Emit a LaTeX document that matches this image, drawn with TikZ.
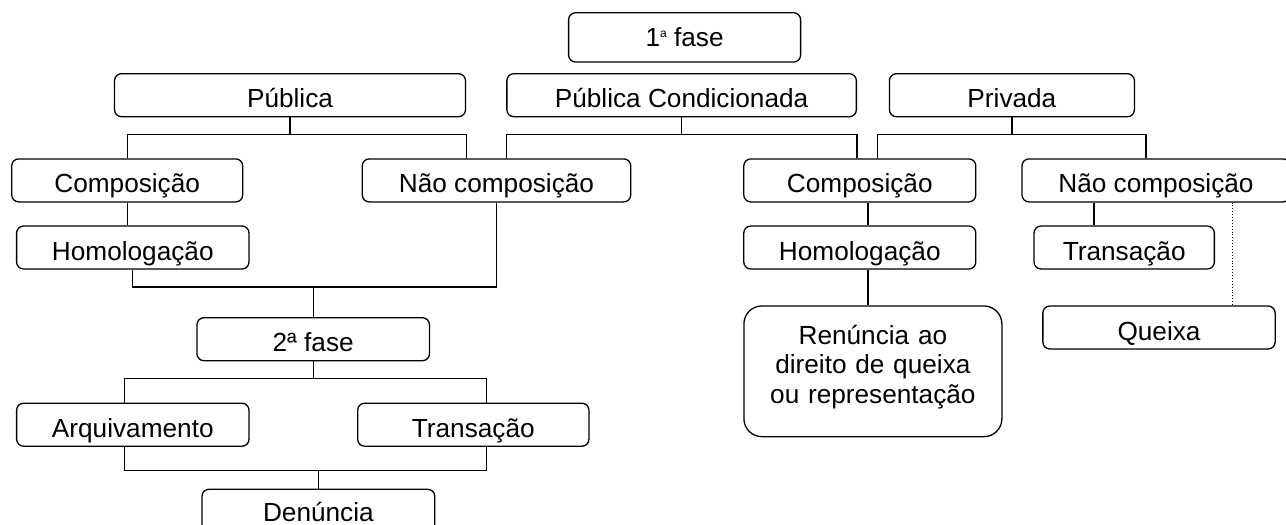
\documentclass[tikz,border=0pt]{standalone}
\usepackage{fontspec}
\setmainfont{Liberation Sans}
\usetikzlibrary{calc}
\begin{document}
\begin{tikzpicture}[x=1pt,y=-1pt,
  every node/.style={font=\fontsize{26.2pt}{29.5pt}\selectfont},
  box/.style={draw, line width=1.3pt, rounded corners=7pt, inner sep=0pt,
    minimum height=43pt, text height=25pt, text depth=0pt},
  bigbox/.style={draw, line width=1.3pt, rounded corners=18pt, inner sep=0pt},
  conn/.style={line width=1.3pt},
  dots/.style={line width=0.9pt, dotted}]
\useasboundingbox (0,0) rectangle (1286,525);
\clip (0,0) rectangle (1286,525);
% row 1
\node[box, minimum width=232pt, minimum height=49.3pt, text depth=6pt] (f1) at (684.6,37.4)
  {1\raisebox{9pt}{\fontsize{12pt}{12pt}\selectfont a} fase};
% row 2
\node[box, minimum width=351pt] (pub) at (290,95.2) {Pública};
\node[box, minimum width=349.5pt] (pc) at (681.6,95.2) {Pública Condicionada};
\node[box, minimum width=245pt] (priv) at (1011.9,95.2) {Privada};
% row 3
\node[box, minimum width=231pt] (comp1) at (127.2,180.4) {Composição};
\node[box, minimum width=268.5pt] (nc1) at (496.5,180.4) {Não composição};
\node[box, minimum width=232pt] (comp2) at (859.8,180.4) {Composição};
\node[box, minimum width=268pt] (nc2) at (1156,180.4) {Não composição};
% row 4
\node[box, minimum width=232.4pt] (hom1) at (132.8,247.5) {Homologação};
\node[box, minimum width=232pt] (hom2) at (859.8,247.5) {Homologação};
\node[box, minimum width=180.3pt] (tr2) at (1124.2,247.5) {Transação};
% right lower
\node[bigbox, minimum width=258pt, minimum height=130.7pt] (ren) at (872.9,371.3) {};
\node[anchor=base, align=center, text width=258pt, inner sep=0pt] (rentxt) at (872.9,344.3)
  {Renúncia ao\\direito de queixa\\ou representação};
\node[box, minimum width=232.3pt] (qx) at (1159,327.5) {Queixa};
% left lower
\node[box, minimum width=232.5pt] (f2) at (313.2,339.2) {2ª fase};
\node[box, minimum width=232.4pt] (arq) at (132.8,424.7) {Arquivamento};
\node[box, minimum width=231.3pt] (tr1) at (473.3,424.7) {Transação};
\node[box, minimum width=232.8pt, text height=21pt] (den) at (318.4,510.8) {Denúncia};
% junction coordinates
\coordinate (y1) at (0,134.4);
\coordinate (y3) at (0,287);
\coordinate (p1) at (877.7,134.4);
\coordinate (p2) at (1146,134.4);
\coordinate (a1) at (124.5,378.3);
\coordinate (a2) at (486.3,378.3);
\coordinate (b1) at (124.5,470.7);
\coordinate (b2) at (486.3,470.7);
\coordinate (c2) at (868,0);
\coordinate (c3) at (1094,0);
\coordinate (c4) at (1232,0);
% connectors
\draw[conn] (pub.south) -- (pub.south |- y1);
\draw[conn] (comp1.north) |- (pub.south east |- y1) -- (pub.south east |- nc1.north);
\draw[conn] (pc.south) -- (pc.south |- y1);
\draw[conn] (pc.south west |- nc1.north) |- (pc.south east |- y1) -- (pc.south east |- comp2.north);
\draw[conn] (priv.south) -- (priv.south |- y1);
\draw[conn] (p1 |- comp2.north) -- (p1) -- (p2) -- (p2 |- nc2.north);
\draw[conn] (comp1.south) -- (comp1.south |- hom1.north);
\draw[conn] (hom1.south) |- (nc1.south |- y3) -- (nc1.south);
\draw[conn] (f2.north) -- (f2.north |- y3);
\draw[conn] (f2.south) -- (f2.south |- a1);
\draw[conn] (a1 |- arq.north) -- (a1) -- (a2) -- (a2 |- tr1.north);
\draw[conn] (b1 |- arq.south) -- (b1) -- (b2) -- (b2 |- tr1.south);
\draw[conn] (den.north) -- (den.north |- b1);
\draw[conn] (c2 |- comp2.south) -- (c2 |- hom2.north);
\draw[conn] (c2 |- hom2.south) -- (c2 |- ren.north);
\draw[conn] (c3 |- nc2.south) -- (c3 |- tr2.north);
\draw[dots] (c4 |- nc2.south) -- (c4 |- qx.north);
\end{tikzpicture}
\end{document}
